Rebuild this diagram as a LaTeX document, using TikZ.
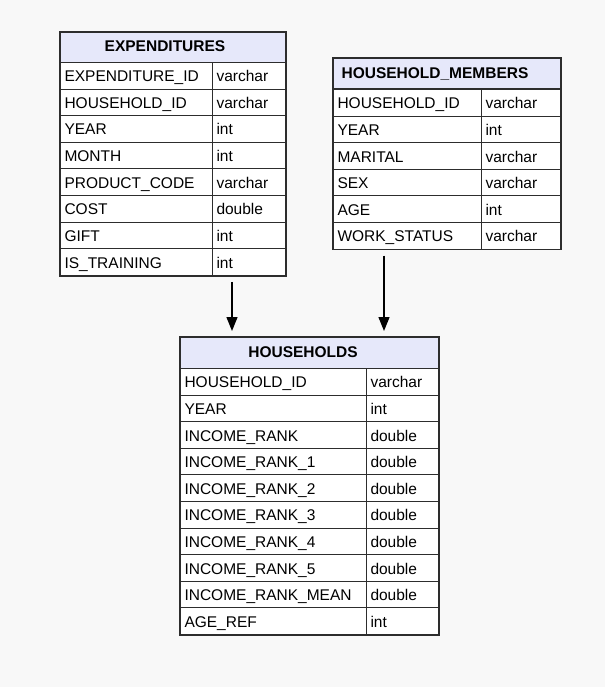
\documentclass[tikz,border=0pt]{standalone}
\usepackage{fontspec}
\setmainfont{Liberation Sans}
\usetikzlibrary{arrows.meta}
\definecolor{bgpage}{RGB}{248,248,248}
\definecolor{headfill}{RGB}{230,232,250}
\definecolor{lineclr}{RGB}{45,45,45}
\begin{document}
\begin{tikzpicture}[x=1pt,y=-1pt,>={Triangle[length=14pt,width=11pt]},
  font=\fontsize{15.5}{18}\selectfont]
	\tikzset{cell/.style={draw=lineclr,line width=1pt,fill=white,anchor=north west,
	    minimum height=26.6pt,inner xsep=4pt,inner ysep=0pt,text height=13pt,text depth=1pt},
	  headcell/.style={draw=lineclr,line width=1pt,fill=headfill,anchor=north west,
	    minimum height=30.5pt,inner sep=0pt},
	  title/.style={font=\fontsize{15.5}{18}\selectfont\bfseries,text height=11.5pt,text depth=1.5pt},
	  frame/.style={draw=lineclr,line width=1.6pt},
	  fk/.style={->,draw=black,line width=1.3pt}}
	\fill[bgpage] (0,0) rectangle (605,687);
	\useasboundingbox (0,0) rectangle (605,687);
	% EXPENDITURES
	\node[headcell,minimum width=225pt] (exp) at (60,32) {};
	\node[title] (exptitle) at (165,47) {EXPENDITURES};
	\foreach \n/\t [count=\i] in {EXPENDITURE\_ID/varchar,HOUSEHOLD\_ID/varchar,YEAR/int,
	  MONTH/int,PRODUCT\_CODE/varchar,COST/double,GIFT/int,IS\_TRAINING/int}{
		\node[cell,minimum width=152pt,text width=144pt] (exp-n\i) at (60,62+26.6*\i-26.6) {\n};
		\node[cell,minimum width=73pt,text width=65pt] (exp-t\i) at (212,62+26.6*\i-26.6) {\t};
	}
	\draw[frame] (exp.north west) rectangle (exp-t8.south east);
	% HOUSEHOLD_MEMBERS
	\node[headcell,minimum width=227pt] (mem) at (333,58) {};
	\node[title] (memtitle) at (435,73.5) {HOUSEHOLD\_MEMBERS};
	\foreach \n/\t [count=\i] in {HOUSEHOLD\_ID/varchar,YEAR/int,MARITAL/varchar,
	  SEX/varchar,AGE/int,WORK\_STATUS/varchar}{
		\node[cell,minimum width=148pt,text width=140pt] (mem-n\i) at (333,89+26.6*\i-26.6) {\n};
		\node[cell,minimum width=79pt,text width=71pt] (mem-t\i) at (481,89+26.6*\i-26.6) {\t};
	}
	\draw[frame] (mem.north west) rectangle (mem-t6.south east);
	% HOUSEHOLDS
	\node[headcell,minimum width=258pt] (hh) at (180,337) {};
	\node[title] (hhtitle) at (303,352.5) {HOUSEHOLDS};
	\foreach \n/\t [count=\i] in {HOUSEHOLD\_ID/varchar,YEAR/int,INCOME\_RANK/double,
	  INCOME\_RANK\_1/double,INCOME\_RANK\_2/double,INCOME\_RANK\_3/double,
	  INCOME\_RANK\_4/double,INCOME\_RANK\_5/double,INCOME\_RANK\_MEAN/double,AGE\_REF/int}{
		\node[cell,minimum width=186pt,text width=178pt] (hh-n\i) at (180,368+26.6*\i-26.6) {\n};
		\node[cell,minimum width=72pt,text width=64pt] (hh-t\i) at (366,368+26.6*\i-26.6) {\t};
	}
	\draw[frame] (hh.north west) rectangle (hh-t10.south east);
	% links
	\draw[fk] ([shift={(20,6)}]exp-t8.south west) -- ([shift={(52,-6)}]hh.north west);
	\draw[fk] ([shift={(51,6)}]mem-n6.south west) -- ([shift={(204,-6)}]hh.north west);
\end{tikzpicture}
\end{document}
